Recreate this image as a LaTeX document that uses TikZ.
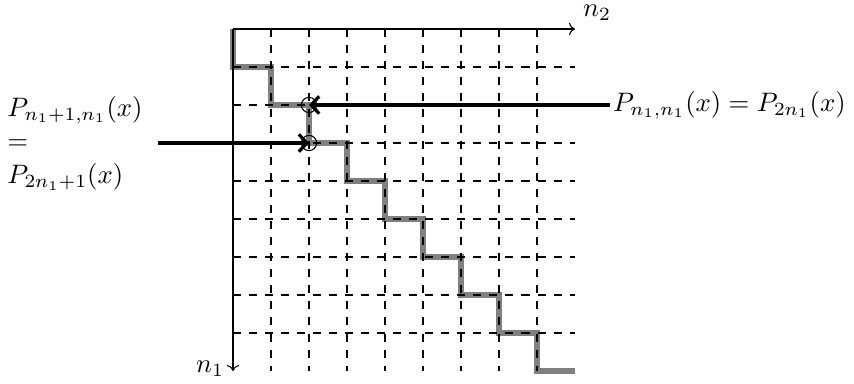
\documentclass[tikz,border=0pt]{standalone}
\usetikzlibrary{arrows.meta}
\begin{document}
\begin{tikzpicture}[x=0.5cm,y=-0.5cm,
  gridline/.style={dashed,thin},
  axisline/.style={-{To[scale=0.9]},thin},
  stair/.style={line width=2.2pt,gray},
  marker/.style={thin},
  pointer/.style={-{Straight Barb[length=3pt,width=6.5pt]},very thick},
  lbl/.style={font=\fontsize{10.3}{12.6}\selectfont}]
\useasboundingbox (-6.1316,-0.7632) rectangle (16.3421,9.3158);
% staircase
\draw[stair] (0,0) -- (0,1)
  \foreach \k in {1,...,8} { -- (\k,\k) -- (\k,\k+1) } -- (9,9);
% grid
\foreach \i in {1,...,8} {
  \draw[gridline] (\i,0) -- (\i,9);
  \draw[gridline] (0,\i) -- (9,\i);
}
% points
\coordinate (A) at (2,2);
\coordinate (B) at (2,3);
\draw[marker] (A) circle (0.2);
\draw[marker] (B) circle (0.2);
% axes
\coordinate (O) at (0,0);
\coordinate (X) at (9,0);
\coordinate (Y) at (0,9);
\draw[axisline] (O) -- (X);
\draw[axisline] (O) -- (Y);
\node[lbl,inner sep=0pt] (n2) at (9.58,-0.42) {$n_2$};
\node[lbl] (n1) at (-0.6,8.95) {$n_1$};
% labels
\node[lbl,anchor=west,inner sep=1pt] (R) at (9.92,2) {$P_{n_1,n_1}(x) = P_{2n_1}(x)$};
\node[lbl,anchor=west,align=left,inner sep=0pt] (L) at (-5.95,3.0) {$P_{n_1+1,n_1}(x)$\\$=$\\$P_{2n_1+1}(x)$};
\coordinate (Ls) at (-1.97,3);
\draw[pointer] (R.west) -- (A);
\draw[pointer] (Ls) -- (B);
\end{tikzpicture}
\end{document}
